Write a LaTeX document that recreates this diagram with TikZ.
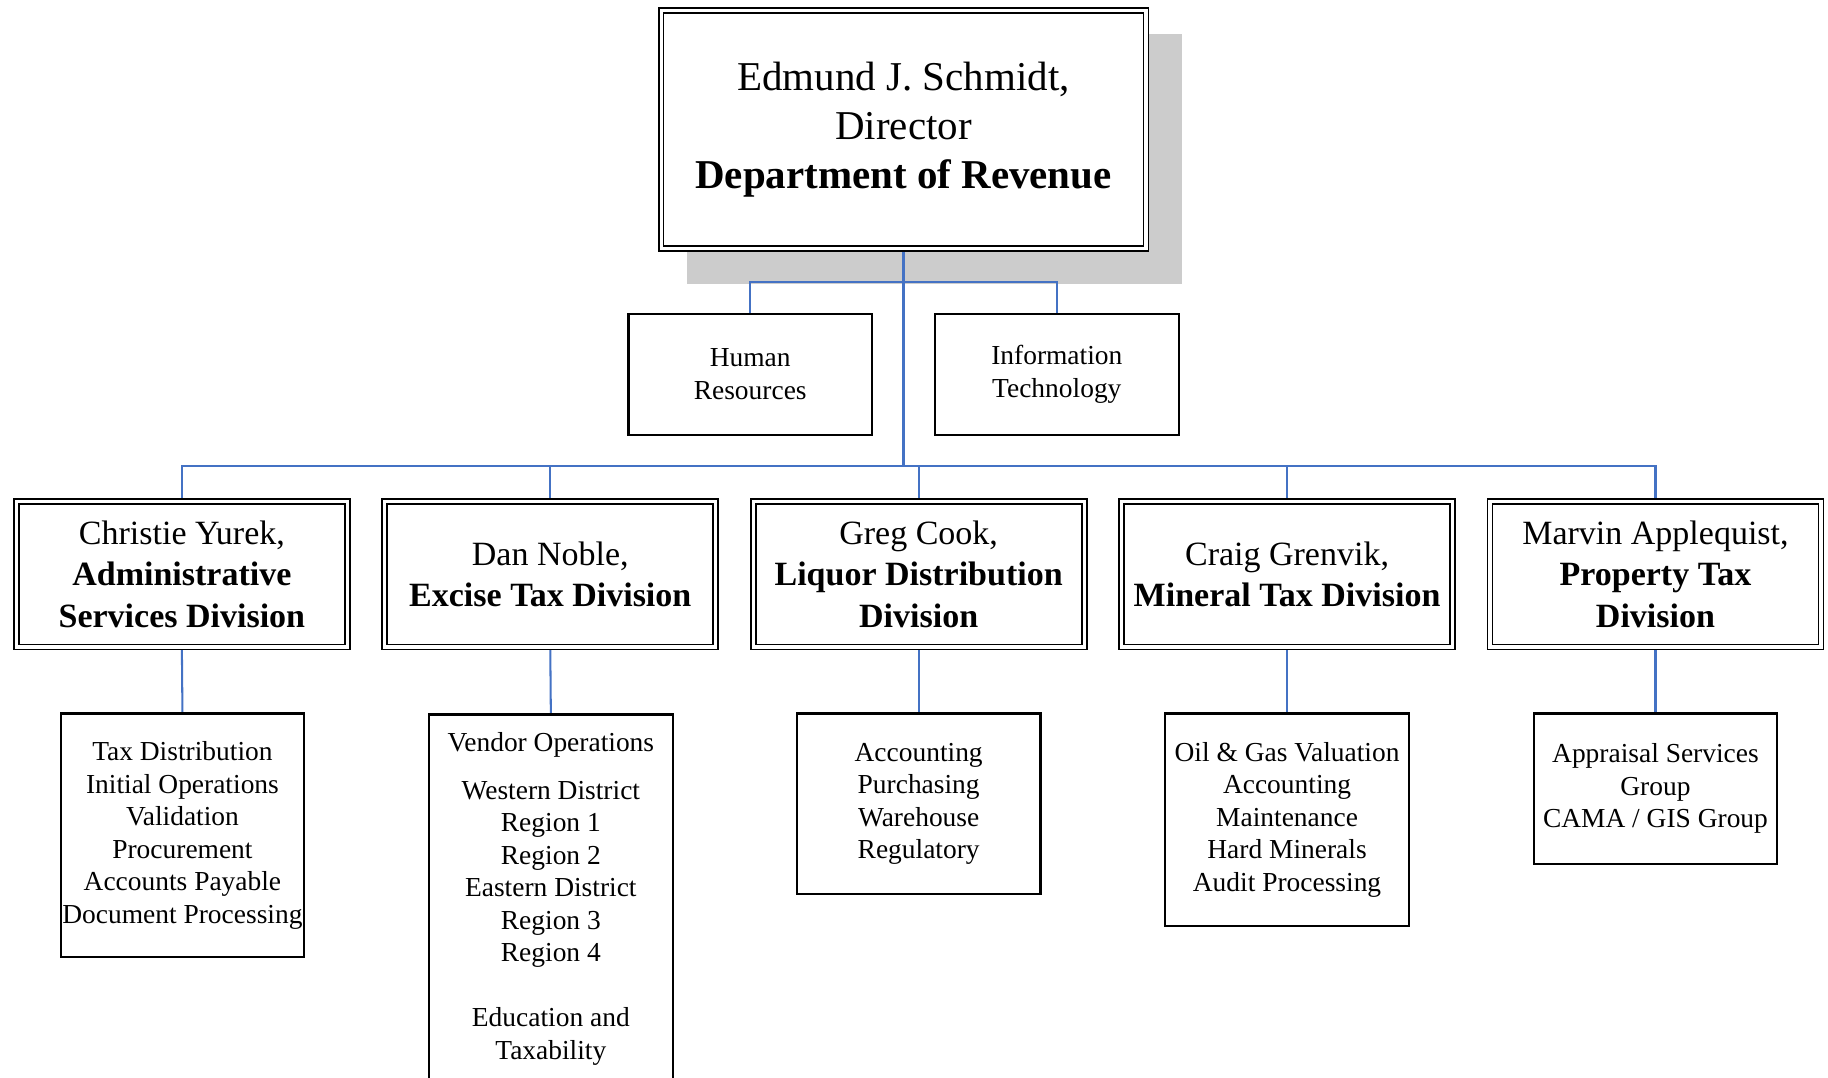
\documentclass[tikz,border=0pt]{standalone}
\usepackage{fontspec}
\setmainfont{Liberation Serif}
\usetikzlibrary{backgrounds}

\definecolor{linkblue}{HTML}{4472C4}
\definecolor{shadegray}{HTML}{CCCCCC}

\begin{document}
\begin{tikzpicture}[x=0.02cm,y=-0.02cm]
\tikzstyle{every node}=[align=center, inner sep=0pt]
\tikzstyle{headbox}=[draw, double, line width=0.9pt, double distance=1.5pt, fill=white, minimum width=8.32cm, minimum height=4.08cm, font=\fontsize{20}{24}\selectfont]
\tikzstyle{divbox}=[draw, double, line width=0.9pt, double distance=1.5pt, fill=white, minimum width=5.68cm, minimum height=2.5cm, font=\fontsize{16.6}{20.2}\selectfont]
\tikzstyle{unitbox}=[draw, line width=1.1pt, fill=white, minimum width=4.18cm, font=\fontsize{13.4}{15.9}\selectfont]
\tikzstyle{link}=[draw=linkblue, line width=1pt]
\useasboundingbox (0,0) rectangle (1568,924);
\clip (0,0) rectangle (1568,924);
\coordinate (hrbus) at (775,242);
\coordinate (bus) at (775,400);
% director and staff offices
\node (dir) [headbox] at (775,111) {Edmund J. Schmidt,\\Director\\\textbf{Department of Revenue}};
\node (hr) [unitbox, minimum height=2.08cm] at (643.5,321) {Human\\Resources};
\node (it) [unitbox, minimum height=2.08cm] at (906.5,321) {Information\\Technology};
% divisions
\node (admin) [divbox] at (156,492.5) {Christie Yurek,\\\textbf{Administrative}\\\textbf{Services Division}};
\node (excise) [divbox] at (472,492.5) {Dan Noble,\\\textbf{Excise Tax Division}};
\node (liquor) [divbox] at (788,492.5) {Greg Cook,\\\textbf{Liquor Distribution}\\\textbf{Division}};
\node (mineral) [divbox] at (1104,492.5) {Craig Grenvik,\\\textbf{Mineral Tax Division}};
\node (property) [divbox] at (1420,492.5) {Marvin Applequist,\\\textbf{Property Tax}\\\textbf{Division}};
% sections
\node (adminsub) [unitbox, minimum height=4.18cm] at (156.5,716.5) {Tax Distribution\\Initial Operations\\Validation\\Procurement\\Accounts Payable\\Document Processing};
\node (excisesub) [unitbox, minimum height=8cm, anchor=north] at (472.5,612) {};
\node (excisetxt) [font=\fontsize{13.4}{15.9}\selectfont] at (472.5,771) {Vendor Operations\\[7.4pt]Western District\\Region 1\\Region 2\\Eastern District\\Region 3\\Region 4\\[15.9pt]Education and\\Taxability};
\node (liquorsub) [unitbox, minimum height=3.1cm] at (788,689.5) {Accounting\\Purchasing\\Warehouse\\Regulatory};
\node (mineralsub) [unitbox, minimum height=3.64cm] at (1104,703) {Oil \& Gas Valuation\\Accounting\\Maintenance\\Hard Minerals\\Audit Processing};
\node (propertysub) [unitbox, minimum height=2.58cm] at (1420,676.5) {Appraisal Services\\Group\\CAMA / GIS Group};
\begin{scope}[on background layer]
\fill[shadegray] ([shift={(23,21)}]dir.north west) rectangle ([shift={(30,30)}]dir.south east);
\draw[link] (dir.south) -- (bus);
\draw[link] (hr.north) |- (hrbus) -| (it.north);
\draw[link] (admin.north) |- (bus) -| (property.north);
\foreach \d in {excise,liquor,mineral}
  \draw[link] (\d.north) -- (\d.north |- bus);
\foreach \d/\s in {admin/adminsub,excise/excisesub,liquor/liquorsub,mineral/mineralsub,property/propertysub}
  \draw[link] (\d.south) -- (\s.north);
\end{scope}
\end{tikzpicture}
\end{document}
